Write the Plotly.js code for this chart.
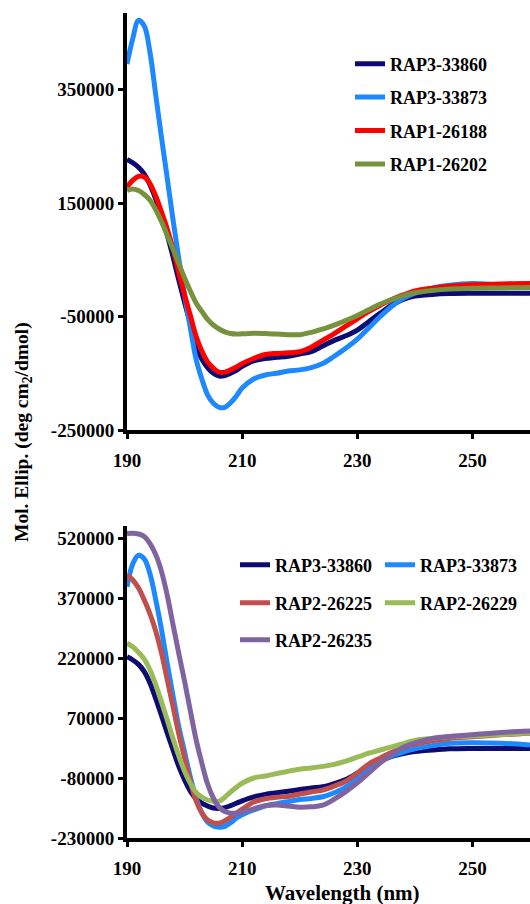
<!DOCTYPE html>
<html>
<head>
<meta charset="utf-8">
<script src="https://cdn.plot.ly/plotly-3.0.1.min.js"></script>
<style>html,body{margin:0;padding:0;background:#fff}#chart{width:530px;height:904px}</style>
</head>
<body>
<div id="chart"></div>
<script>
// Wavelength grid (nm)
const wavelength = [190,191,192,193,194,195,196,197,198,199,200,201,202,203,204,205,206,207,208,209,210,212,214,216,218,220,222,224,226,228,230,232,234,236,238,240,243,246,250,255,260];

// Top panel series
const top_RAP3_33860 = [227000,221000,213000,201000,182000,157000,126000,93000,55000,14000,-25000,-63000,-100000,-125000,-140000,-150000,-155000,-154000,-150000,-145000,-138000,-128000,-124000,-122000,-120000,-116000,-112000,-102000,-92000,-84000,-74000,-59000,-44000,-30000,-20000,-14000,-11000,-9500,-9000,-9000,-9000];
const top_RAP3_33873 = [395000,440000,472000,462000,415000,340000,265000,193000,120000,52000,-12000,-70000,-125000,-160000,-188000,-203000,-210000,-210000,-202000,-190000,-176000,-160000,-153000,-150000,-146000,-144000,-140000,-133000,-120000,-106000,-90000,-70000,-50000,-32000,-18000,-9000,0,5000,8000,6000,5600];
const top_RAP1_26188 = [178000,190000,197000,196000,184000,162000,134000,104000,69000,27000,-12000,-48000,-85000,-111000,-130000,-141000,-148000,-148000,-144000,-139000,-133000,-124000,-117000,-115000,-114000,-112000,-104000,-92000,-80000,-67000,-54000,-41000,-30000,-20000,-12000,-5000,0,3500,6000,7500,8000];
const top_RAP1_26202 = [172000,175000,172000,165000,155000,138000,117000,93000,69000,43000,18000,-5000,-26000,-41000,-55000,-65000,-72000,-77000,-80000,-81000,-80500,-79500,-80000,-81000,-82000,-82000,-78000,-72000,-65000,-57000,-48000,-38000,-28000,-20000,-13000,-8000,-4000,-1500,0,500,1000];

// Bottom panel series
const bot_RAP3_33860 = [223000,215000,204000,186000,157000,118000,76000,32000,-10000,-51000,-85000,-113000,-132000,-143000,-150000,-155000,-156000,-154000,-149000,-143000,-137000,-127000,-121000,-117000,-113000,-109000,-105000,-102000,-94000,-84000,-68000,-50000,-37000,-26000,-19000,-14000,-10000,-7000,-6000,-6000,-6000];
const bot_RAP3_33873 = [398000,455000,477000,468000,430000,365000,290000,205000,125000,48000,-15000,-78000,-130000,-167000,-190000,-200000,-203000,-201000,-192000,-180000,-172000,-160000,-150000,-144000,-139000,-134000,-131000,-127000,-117000,-103000,-80000,-53000,-38000,-25000,-15000,-7000,1000,7000,8300,7000,2500];
const bot_RAP2_26225 = [427500,415000,395000,365000,330000,287000,232000,165000,98000,30000,-30000,-88000,-137000,-167000,-185000,-192000,-193000,-187000,-178000,-168000,-158000,-140000,-132000,-128000,-126000,-120000,-115000,-110000,-100000,-88000,-68000,-45000,-30000,-16000,-4000,5000,13000,19000,23000,28000,32000];
const bot_RAP2_26229 = [256700,248000,234000,217000,190000,153000,110000,65000,18000,-25000,-63000,-93000,-116000,-128000,-135000,-138000,-138000,-128000,-115000,-103000,-93000,-80000,-75000,-69000,-63000,-58000,-55000,-51000,-46000,-38000,-28000,-18000,-10000,-2000,6000,14000,19000,23000,25000,29000,33300];
const bot_RAP2_26235 = [531000,532000,530000,524000,506000,478000,436000,376000,303000,231000,162000,88000,16000,-43000,-95000,-130000,-153000,-164000,-168000,-168000,-165000,-157000,-149000,-147500,-150000,-153000,-152000,-148000,-133000,-114000,-92000,-67000,-42000,-22000,-3000,8000,19000,24000,28000,34000,37500];

// Tick labels
const xTickVals = [190,210,230,250];
const xTickText = ['190','210','230','250'];
const topYTickVals = [-250000,-50000,150000,350000];
const topYTickText = ['-250000','-50000','150000','350000'];
const botYTickVals = [-230000,-80000,70000,220000,370000,520000];
const botYTickText = ['-230000','-80000','70000','220000','370000','520000'];

const W = 530, H = 904, L = 127;
const px = v => (v - L) / (W - L);
const py = v => 1 - v / H;

const FONT = '"Times New Roman", "Liberation Serif", Times, "DejaVu Serif", serif';
const tickFont = {family: FONT, size: 19, color: '#000', weight: 'bold'};

function tr(name, y, color, xa, ya, legend, group) {
  return {
    x: wavelength, y: y, name: name, type: 'scatter', mode: 'lines',
    line: {color: color, width: 5, shape: 'spline', smoothing: 1},
    xaxis: xa, yaxis: ya, legend: legend, legendgroup: group
  };
}

const data = [
  tr('RAP3-33860', top_RAP3_33860, '#0c0c72', 'x', 'y', 'legend', 'a'),
  tr('RAP3-33873', top_RAP3_33873, '#1e88ff', 'x', 'y', 'legend', 'b'),
  tr('RAP1-26188', top_RAP1_26188, '#ff0000', 'x', 'y', 'legend', 'c'),
  tr('RAP1-26202', top_RAP1_26202, '#76923c', 'x', 'y', 'legend', 'd'),
  tr('RAP3-33860', bot_RAP3_33860, '#0c0c72', 'x2', 'y2', 'legend2', 'e'),
  tr('RAP3-33873', bot_RAP3_33873, '#1e88ff', 'x2', 'y2', 'legend2', 'f'),
  tr('RAP2-26225', bot_RAP2_26225, '#c0504d', 'x2', 'y2', 'legend3', 'g'),
  tr('RAP2-26229', bot_RAP2_26229, '#9bbb59', 'x2', 'y2', 'legend3', 'h'),
  tr('RAP2-26235', bot_RAP2_26235, '#8064a2', 'x2', 'y2', 'legend4', 'i')
];

const xaxisBase = {
  range: [190, 260], tickvals: xTickVals, ticktext: xTickText,
  showline: true, linewidth: 4, linecolor: '#000', ticks: 'outside', ticklen: 5, tickwidth: 3, tickcolor: '#000',
  ticklabelstandoff: 5,
  showgrid: false, zeroline: false, tickfont: tickFont, automargin: false, fixedrange: true
};
const yaxisBase = {
  showline: true, linewidth: 4, linecolor: '#000', ticks: 'outside', ticklen: 5, tickwidth: 3, tickcolor: '#000',
  showgrid: false, zeroline: false, tickfont: tickFont, automargin: false, fixedrange: true
};

const legendBase = {
  bgcolor: 'rgba(0,0,0,0)', borderwidth: 0,
  font: {family: FONT, size: 18, color: '#000', weight: 'bold'},
  xref: 'paper', yref: 'paper', xanchor: 'left', yanchor: 'middle'
};

const layout = {
  width: W, height: H,
  margin: {l: L, r: 0, t: 0, b: 0},
  paper_bgcolor: '#fff', plot_bgcolor: '#fff',
  showlegend: true,
  xaxis: Object.assign({}, xaxisBase, {domain: [0, 1], anchor: 'y'}),
  yaxis: Object.assign({}, yaxisBase, {domain: [py(430), py(13)], range: [-250000, 485000], tickvals: topYTickVals, ticktext: topYTickText, anchor: 'x'}),
  xaxis2: Object.assign({}, xaxisBase, {domain: [0, 1], anchor: 'y2'}),
  yaxis2: Object.assign({}, yaxisBase, {domain: [py(838), py(526)], range: [-230000, 550000], tickvals: botYTickVals, ticktext: botYTickText, anchor: 'x2'}),
  legend: Object.assign({}, legendBase, {x: px(350), y: py(114), orientation: 'v', tracegroupgap: 7, traceorder: 'grouped'}),
  legend2: Object.assign({}, legendBase, {x: px(235), y: py(565), orientation: 'h', entrywidth: 100, entrywidthmode: 'pixels'}),
  legend3: Object.assign({}, legendBase, {x: px(235), y: py(603), orientation: 'h', entrywidth: 100, entrywidthmode: 'pixels'}),
  legend4: Object.assign({}, legendBase, {x: px(235), y: py(640), orientation: 'h', entrywidth: 100, entrywidthmode: 'pixels'}),
  annotations: [
    {text: 'Mol. Ellip. (deg cm<sub>2</sub>/dmol)', xref: 'paper', yref: 'paper', x: px(23), y: py(432),
     xanchor: 'center', yanchor: 'middle', textangle: -90, showarrow: false,
     font: {family: FONT, size: 19.5, color: '#000', weight: 'bold'}},
    {text: 'Wavelength (nm)', xref: 'paper', yref: 'paper', x: px(342), y: py(893),
     xanchor: 'center', yanchor: 'middle', showarrow: false,
     font: {family: FONT, size: 21, color: '#000', weight: 'bold'}}
  ]
};

Plotly.newPlot('chart', data, layout, {displayModeBar: false, staticPlot: true});
</script>
</body>
</html>
